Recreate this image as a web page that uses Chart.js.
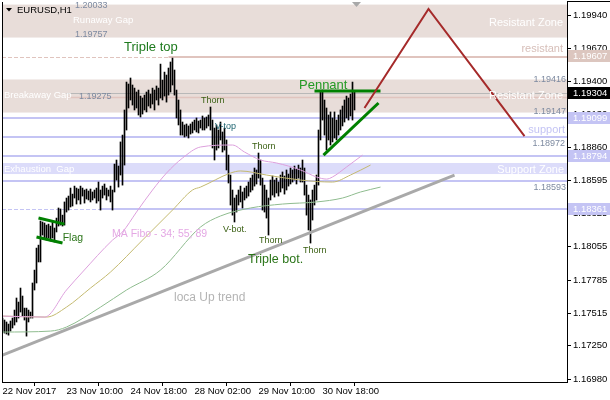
<!DOCTYPE html>
<html>
<head>
<meta charset="utf-8">
<title>EURUSD,H1</title>
<script src="https://cdn.jsdelivr.net/npm/chart.js@4.4.1/dist/chart.umd.min.js"></script>
<style>
  html, body { margin: 0; padding: 0; background: #fff; }
  #wrap { width: 610px; height: 400px; }
</style>
</head>
<body>
<div id="wrap"><canvas id="priceChart" width="610" height="400"></canvas></div>
<script>
// ---- values ----
const xTickBars = [0, 32, 64, 96, 128, 160];
const xTickLabels = ['22 Nov 2017', '23 Nov 10:00', '24 Nov 18:00', '28 Nov 02:00', '29 Nov 10:00', '30 Nov 18:00'];
const yTickValues = [1.19940, 1.19670, 1.19400, 1.19130, 1.18860, 1.18595, 1.18325, 1.18055, 1.17785, 1.17515, 1.17250, 1.16980];

// bar highs / lows, one per hour
const highs = [
  1.17476, 1.17460, 1.17444, 1.17427, 1.17452, 1.17476, 1.17541, 1.17639, 1.17606, 1.17720,
  1.17655, 1.17557, 1.17557, 1.17541, 1.17525, 1.17761, 1.17866, 1.18045, 1.18069, 1.18265,
  1.18257, 1.18249, 1.18232, 1.18240, 1.18224, 1.18257, 1.18208, 1.18289, 1.18371, 1.18363,
  1.18313, 1.18420, 1.18452, 1.18468, 1.18533, 1.18484, 1.18549, 1.18533, 1.18525, 1.18549,
  1.18533, 1.18517, 1.18525, 1.18509, 1.18525, 1.18501, 1.18517, 1.18533, 1.18582, 1.18517,
  1.18549, 1.18566, 1.18533, 1.18517, 1.18549, 1.18517, 1.18728, 1.18761, 1.18712, 1.18908,
  1.18964, 1.19168, 1.19395, 1.19379, 1.19428, 1.19371, 1.19346, 1.19314, 1.19330, 1.19281,
  1.19265, 1.19289, 1.19314, 1.19330, 1.19297, 1.19346, 1.19330, 1.19363, 1.19346, 1.19541,
  1.19411, 1.19476, 1.19452, 1.19509, 1.19558, 1.19590, 1.19493, 1.19330, 1.19249, 1.19168,
  1.19070, 1.19046, 1.19054, 1.19038, 1.19054, 1.19070, 1.19086, 1.19103, 1.19078, 1.19086,
  1.19119, 1.19103, 1.19111, 1.19127, 1.19192, 1.19086, 1.19021, 1.19046, 1.19005, 1.19070,
  1.18989, 1.19021, 1.18924, 1.18801, 1.18639, 1.18517, 1.18452, 1.18476, 1.18517, 1.18549,
  1.18501, 1.18533, 1.18549, 1.18582, 1.18614, 1.18639, 1.18696, 1.18680, 1.18818, 1.18761,
  1.18614, 1.18557, 1.18517, 1.18452, 1.18598, 1.18631, 1.18598, 1.18614, 1.18582, 1.18639,
  1.18664, 1.18631, 1.18680, 1.18647, 1.18696, 1.18680, 1.18712, 1.18688, 1.18720, 1.18696,
  1.18761, 1.18696, 1.18557, 1.18476, 1.18436, 1.18517, 1.18557, 1.18639, 1.19005, 1.19314,
  1.19330, 1.19249, 1.19184, 1.19127, 1.19152, 1.19103, 1.19152, 1.19086, 1.19127, 1.19168,
  1.19200, 1.19249, 1.19281, 1.19265, 1.19297, 1.19395, 1.19314
];
const lows = [
  1.17362, 1.17354, 1.17346, 1.17337, 1.17370, 1.17395, 1.17419, 1.17444, 1.17476, 1.17525,
  1.17492, 1.17460, 1.17329, 1.17444, 1.17476, 1.17476, 1.17704, 1.17761, 1.17932, 1.17932,
  1.18151, 1.18127, 1.18110, 1.18127, 1.18102, 1.18127, 1.18094, 1.18176, 1.18224, 1.18232,
  1.18224, 1.18232, 1.18338, 1.18354, 1.18379, 1.18387, 1.18452, 1.18403, 1.18436, 1.18403,
  1.18468, 1.18411, 1.18444, 1.18436, 1.18420, 1.18436, 1.18452, 1.18411, 1.18428, 1.18354,
  1.18452, 1.18476, 1.18436, 1.18468, 1.18420, 1.18354, 1.18501, 1.18598, 1.18541, 1.18639,
  1.18557, 1.18720, 1.19005, 1.19184, 1.19249, 1.19208, 1.19168, 1.19184, 1.19127, 1.19111,
  1.19135, 1.19168, 1.19152, 1.19200, 1.19184, 1.19216, 1.19168, 1.19249, 1.19208, 1.19265,
  1.19249, 1.19281, 1.19232, 1.19289, 1.19314, 1.19371, 1.19289, 1.19103, 1.19046, 1.18964,
  1.18964, 1.18948, 1.18956, 1.18940, 1.18972, 1.18981, 1.19005, 1.18989, 1.18981, 1.19021,
  1.19005, 1.19005, 1.19021, 1.19038, 1.19005, 1.18859, 1.18761, 1.18842, 1.18859, 1.18924,
  1.18826, 1.18842, 1.18680, 1.18574, 1.18395, 1.18313, 1.18257, 1.18338, 1.18395, 1.18420,
  1.18371, 1.18436, 1.18452, 1.18468, 1.18501, 1.18517, 1.18549, 1.18566, 1.18614, 1.18557,
  1.18354, 1.18338, 1.18289, 1.18151, 1.18436, 1.18476, 1.18460, 1.18493, 1.18468, 1.18501,
  1.18533, 1.18484, 1.18517, 1.18549, 1.18566, 1.18582, 1.18598, 1.18566, 1.18614, 1.18582,
  1.18582, 1.18476, 1.18313, 1.18192, 1.18086, 1.18273, 1.18395, 1.18436, 1.18557, 1.18924,
  1.19086, 1.18964, 1.18842, 1.18924, 1.18883, 1.18908, 1.18940, 1.18924, 1.18964, 1.19005,
  1.19038, 1.19070, 1.19103, 1.19086, 1.19119, 1.19086, 1.19168
];

// moving averages (34, 55, 89), read at a few bars along each line
const ma34Bars = [0, 21, 32, 40, 55, 60, 67, 75, 82, 90, 99, 115, 121, 129, 137, 149, 157, 162, 165, 172, 180];
const ma34Values = [1.17492, 1.17484, 1.17704, 1.17850, 1.18110, 1.18176, 1.18338, 1.18517, 1.18655, 1.18777, 1.18867, 1.18883, 1.18826, 1.18761, 1.18737, 1.18680, 1.18623, 1.18606, 1.18623, 1.18704, 1.18801];
const ma55Bars = [0, 22, 32, 44, 54, 70, 85, 95, 99, 114, 119, 132, 149, 165, 174, 184];
const ma55Values = [1.17492, 1.17484, 1.17565, 1.17720, 1.17850, 1.18110, 1.18354, 1.18517, 1.18541, 1.18655, 1.18672, 1.18639, 1.18598, 1.18582, 1.18639, 1.18720];
const ma89Bars = [0, 24, 32, 49, 62, 79, 99, 109, 124, 140, 157, 170, 179, 189];
const ma89Values = [1.17362, 1.17370, 1.17403, 1.17565, 1.17704, 1.17866, 1.18216, 1.18306, 1.18371, 1.18403, 1.18420, 1.18452, 1.18501, 1.18541];

// drawn objects
const upTrendBars = [0, 226];
const upTrendValues = [1.17175, 1.18639];
const flagTopBars = [18, 31];
const flagTopValues = [1.18289, 1.18240];
const flagBottomBars = [17, 30];
const flagBottomValues = [1.18135, 1.18086];
const pennantTopBars = [156, 189];
const pennantTopValues = [1.19322, 1.19322];
const pennantBottomBars = [160.5, 188];
const pennantBottomValues = [1.18801, 1.19225];
const projectionBars = [181, 213, 261];
const projectionValues = [1.19184, 1.19989, 1.18956];

const zoneRanges = [[1.19757, 1.20025], [1.19147, 1.19416], [1.18647, 1.18737]];
const levelPrices = [1.19600, 1.19304, 1.19275, 1.19099, 1.18952, 1.18794, 1.18590, 1.18361];
const axisMarks = [1.19607, 1.19304, 1.19099, 1.18794, 1.18361];
const shiftMarkBar = 177;

// ---- styling / layout ----
const FONT = '"Liberation Sans", Arial, sans-serif';
const priceGrey = '#7d8aa0';
const zoneColors = ['#e8ddd9', '#e8ddd9', '#dcdcfa'];
const levelStyles = [
  { color: '#e0c4be', width: 2, dashTo: 83 },
  { color: '#b8b8b8', width: 1, from: 32 },
  { color: '#e0c4be', width: 1.5, from: 32 },
  { color: '#c4c4f4', width: 2 },
  { color: '#c4c4f4', width: 2 },
  { color: '#c4c4f4', width: 2 },
  { color: '#c4c4f4', width: 2 },
  { color: '#c4c4f4', width: 2, dashTo: 49 }
];
const markColors = ['#dcc6bf', '#000000', '#c4c4f4', '#c4c4f4', '#c4c4f4'];

const notes = [
  { i: 36.25, p: 1.19997, text: '1.20033', size: 9, color: priceGrey },
  { i: 35.25, p: 1.19875, text: 'Runaway Gap', size: 9.5, color: '#fff' },
  { i: 36.25, p: 1.19761, text: '1.19757', size: 9, color: priceGrey },
  { i: 0.75, p: 1.19265, text: 'Breakaway Gap', size: 9.5, color: '#fff' },
  { i: 38.25, p: 1.19257, text: '1.19275', size: 9, color: priceGrey },
  { i: 0.75, p: 1.18663, text: 'Exhaustion  Gap', size: 9.5, color: '#fff' },
  { i: 60.75, p: 1.19647, text: 'Triple top', size: 13, color: '#1e7a1e' },
  { i: 148.25, p: 1.19338, text: 'Pennant', size: 13, color: '#249a24' },
  { i: 122.75, p: 1.17924, text: 'Triple bot.', size: 12.5, color: '#2a7418' },
  { i: 30.1, p: 1.18102, text: 'Flag', size: 10.5, color: '#2a7418' },
  { i: 54.75, p: 1.18135, text: 'MA Fibo - 34; 55; 89', size: 10.5, color: '#e4a8e4' },
  { i: 85.75, p: 1.17614, text: 'loca Up trend', size: 12, color: '#b4b4b4' },
  { i: 99.25, p: 1.19224, text: 'Thorn', size: 9, color: '#3b6014' },
  { i: 106.25, p: 1.19013, text: 'V-top', size: 9, color: '#1d6470' },
  { i: 124.75, p: 1.18850, text: 'Thorn', size: 9, color: '#3b6014' },
  { i: 110.25, p: 1.18175, text: 'V-bot.', size: 9, color: '#3b6014' },
  { i: 128.25, p: 1.18086, text: 'Thorn', size: 9, color: '#3b6014' },
  { i: 150.25, p: 1.18005, text: 'Thorn', size: 9, color: '#3b6014' },
  { right: 4, p: 1.19851, text: 'Resistant Zone', size: 11, color: '#fff' },
  { right: 4, p: 1.19639, text: 'resistant', size: 11, color: '#d6beb8' },
  { right: 1, p: 1.19395, text: '1.19416', size: 9, color: priceGrey },
  { right: 4, p: 1.19257, text: 'Resistant Zone', size: 11, color: '#fff' },
  { right: 1, p: 1.19135, text: '1.19147', size: 9, color: priceGrey },
  { right: 2, p: 1.18981, text: 'support', size: 11, color: '#c4c4f4' },
  { right: 2, p: 1.18875, text: '1.18972', size: 9, color: priceGrey },
  { right: 3, p: 1.18655, text: 'Support Zone', size: 11, color: '#fff' },
  { right: 1, p: 1.18517, text: '1.18593', size: 9, color: priceGrey }
];

function pairUp(bars, values) {
  return bars.map((b, k) => ({ x: b, y: values[k] }));
}

function hLine(ctx, x0, x1, yy, color, width, dash) {
  ctx.beginPath();
  ctx.setLineDash(dash || []);
  ctx.strokeStyle = color;
  ctx.lineWidth = width;
  ctx.moveTo(x0, yy);
  ctx.lineTo(x1, yy);
  ctx.stroke();
  ctx.setLineDash([]);
}

// no extra room for half tick labels: the plot runs edge to edge like the terminal
function noScalePadding(s) {
  s.paddingTop = 0;
  s.paddingBottom = 0;
  s.paddingLeft = 0;
  s.paddingRight = 0;
}

const chartObjects = {
  id: 'chartObjects',
  beforeDatasetsDraw(chart) {
    const { ctx, chartArea: a, scales: { x, y } } = chart;
    ctx.save();
    ctx.beginPath();
    ctx.rect(a.left, a.top, a.right - a.left, a.bottom - a.top);
    ctx.clip();

    zoneRanges.forEach((z, k) => {
      const top = y.getPixelForValue(z[1]);
      const bottom = y.getPixelForValue(z[0]);
      ctx.fillStyle = zoneColors[k];
      ctx.fillRect(a.left, top, a.right - a.left, bottom - top);
    });

    levelPrices.forEach((p, k) => {
      const s = levelStyles[k];
      const yy = Math.round(y.getPixelForValue(p)) + (s.width % 2 ? 0.5 : 0);
      let start = a.left;
      if (s.from !== undefined) start = x.getPixelForValue(s.from);
      if (s.dashTo !== undefined) {
        const split = x.getPixelForValue(s.dashTo);
        hLine(ctx, start, split, Math.round(y.getPixelForValue(p)) + 0.5, s.color, 1, [4, 2]);
        start = split;
      }
      hLine(ctx, start, a.right, yy, s.color, s.width);
    });
    ctx.restore();
  },
  afterDatasetsDraw(chart) {
    const { ctx, chartArea: a, scales: { x, y } } = chart;
    ctx.save();
    ctx.textBaseline = 'alphabetic';
    notes.forEach(n => {
      ctx.font = n.size + 'px ' + FONT;
      ctx.fillStyle = n.color;
      const yy = y.getPixelForValue(n.p);
      if (n.right !== undefined) {
        ctx.textAlign = 'right';
        ctx.fillText(n.text, a.right - n.right, yy);
      } else {
        ctx.textAlign = 'left';
        ctx.fillText(n.text, x.getPixelForValue(n.i), yy);
      }
    });

    // chart shift marker
    const mx = x.getPixelForValue(shiftMarkBar);
    ctx.fillStyle = '#a8a8a8';
    ctx.beginPath();
    ctx.moveTo(mx - 4.5, a.top);
    ctx.lineTo(mx + 4.5, a.top);
    ctx.lineTo(mx, a.top + 5);
    ctx.closePath();
    ctx.fill();
    ctx.restore();
  },
  afterDraw(chart) {
    const { ctx, chartArea: a, scales: { y } } = chart;
    ctx.save();
    // price marks on the right axis
    ctx.font = '9.5px ' + FONT;
    ctx.textAlign = 'left';
    ctx.textBaseline = 'middle';
    axisMarks.forEach((p, k) => {
      const yy = Math.round(y.getPixelForValue(p));
      ctx.fillStyle = markColors[k];
      ctx.fillRect(a.right + 1, yy - 6, 610 - a.right, 12);
      ctx.fillStyle = '#fff';
      ctx.fillText(p.toFixed(5), a.right + 6, yy + 0.5);
    });

    // frame pieces
    ctx.strokeStyle = '#000';
    ctx.lineWidth = 1;
    ctx.beginPath();
    ctx.moveTo(a.left + 0.5, a.top);
    ctx.lineTo(a.left + 0.5, a.bottom);
    ctx.moveTo(a.right, 1.5);
    ctx.lineTo(610, 1.5);
    ctx.stroke();

    // title
    ctx.fillStyle = '#000';
    ctx.beginPath();
    ctx.moveTo(6, 8);
    ctx.lineTo(12, 8);
    ctx.lineTo(9, 11.5);
    ctx.closePath();
    ctx.fill();
    ctx.font = '9.5px ' + FONT;
    ctx.textBaseline = 'alphabetic';
    ctx.fillText('EURUSD,H1', 17, 13);
    ctx.restore();
  }
};

Chart.defaults.font.family = FONT;

const lineSet = (data, color, width, smooth) => ({
  type: 'line',
  data: data,
  borderColor: color,
  borderWidth: width,
  pointRadius: 0,
  fill: false,
  tension: 0,
  cubicInterpolationMode: smooth ? 'monotone' : 'default',
  order: 0
});

const canvas = document.getElementById('priceChart');
const priceChart = new Chart(canvas, {
  type: 'bar',
  data: {
    datasets: [
      lineSet(pairUp(projectionBars, projectionValues), '#a52a2a', 2, false),
      lineSet(pairUp(pennantTopBars, pennantTopValues), '#008000', 3, false),
      lineSet(pairUp(pennantBottomBars, pennantBottomValues), '#008000', 3, false),
      lineSet(pairUp(flagTopBars, flagTopValues), '#008000', 3, false),
      lineSet(pairUp(flagBottomBars, flagBottomValues), '#008000', 3, false),
      lineSet(pairUp(upTrendBars, upTrendValues), '#a9a9a9', 3, false),
      lineSet(pairUp(ma34Bars, ma34Values), '#dda0dd', 1, true),
      lineSet(pairUp(ma55Bars, ma55Values), '#c4ba70', 1, true),
      lineSet(pairUp(ma89Bars, ma89Values), '#8fbc8f', 1, true),
      {
        type: 'bar',
        data: highs.map((h, i) => ({ x: i, y: [lows[i], h] })),
        backgroundColor: '#000',
        borderWidth: 0,
        barThickness: 1,
        grouped: false,
        order: 10
      }
    ]
  },
  options: {
    responsive: false,
    devicePixelRatio: 1,
    animation: false,
    layout: { padding: { left: 2, top: 2, right: 0, bottom: 0 } },
    plugins: { legend: { display: false }, tooltip: { enabled: false } },
    scales: {
      x: {
        type: 'linear',
        offset: false,
        min: -0.25,
        max: 282.25,
        afterFit: s => { s.height = 18; noScalePadding(s); },
        afterBuildTicks: s => { s.ticks = xTickBars.map(v => ({ value: v })); },
        ticks: {
          autoSkip: false,
          maxRotation: 0,
          align: 'start',
          padding: 0,
          color: '#000',
          font: { size: 9.5 },
          callback: v => xTickLabels[xTickBars.indexOf(v)]
        },
        grid: { drawOnChartArea: false, drawTicks: true, tickLength: 4, tickColor: '#000' },
        border: { display: true, color: '#000', width: 1 }
      },
      y: {
        type: 'linear',
        position: 'right',
        min: 1.16956,
        max: 1.20046,
        afterFit: s => { s.width = 43; noScalePadding(s); },
        afterBuildTicks: s => { s.ticks = yTickValues.map(v => ({ value: v })); },
        ticks: {
          autoSkip: false,
          padding: 2,
          color: '#000',
          font: { size: 9.5 },
          callback: v => v.toFixed(5)
        },
        grid: { drawOnChartArea: false, drawTicks: true, tickLength: 4, tickColor: '#000' },
        border: { display: true, color: '#000', width: 1 }
      }
    }
  },
  plugins: [chartObjects]
});
</script>
</body>
</html>
